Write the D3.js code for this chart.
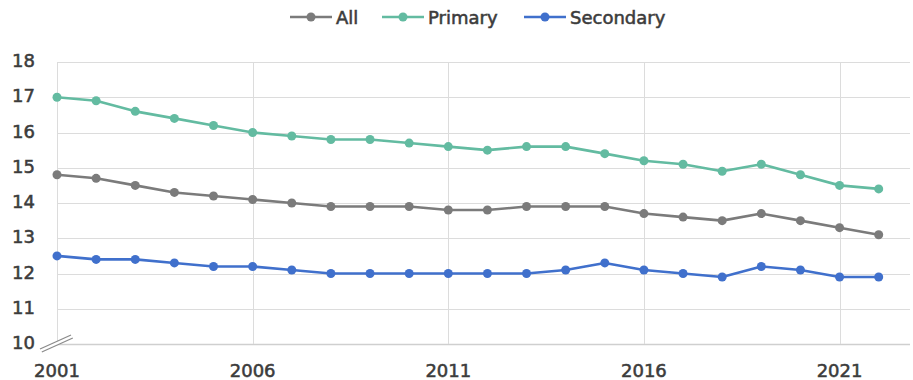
<!DOCTYPE html>
<html>
<head>
<meta charset="utf-8">
<script src="https://cdn.jsdelivr.net/npm/d3@7"></script>
<style>
  html, body { margin: 0; padding: 0; background: #ffffff; }
  svg { display: block; }
  text { font-family: "DejaVu Sans", sans-serif; fill: #3c3c3c; stroke: #3c3c3c; stroke-width: 0.55px; }
</style>
</head>
<body>
<svg id="chart" width="913" height="380"></svg>
<script>
// Years on the horizontal axis
const years = [2001, 2002, 2003, 2004, 2005, 2006, 2007, 2008, 2009, 2010, 2011,
               2012, 2013, 2014, 2015, 2016, 2017, 2018, 2019, 2020, 2021, 2022];

// Series values
const allValues = [14.8, 14.7, 14.5, 14.3, 14.2, 14.1, 14.0, 13.9, 13.9, 13.9, 13.8,
                   13.8, 13.9, 13.9, 13.9, 13.7, 13.6, 13.5, 13.7, 13.5, 13.3, 13.1];
const primaryValues = [17.0, 16.9, 16.6, 16.4, 16.2, 16.0, 15.9, 15.8, 15.8, 15.7, 15.6,
                       15.5, 15.6, 15.6, 15.4, 15.2, 15.1, 14.9, 15.1, 14.8, 14.5, 14.4];
const secondaryValues = [12.5, 12.4, 12.4, 12.3, 12.2, 12.2, 12.1, 12.0, 12.0, 12.0, 12.0,
                         12.0, 12.0, 12.1, 12.3, 12.1, 12.0, 11.9, 12.2, 12.1, 11.9, 11.9];

// Series names
const seriesNames = ["All", "Primary", "Secondary"];

// Tick labels
const xTicks = [2001, 2006, 2011, 2016, 2021];
const yTicks = [10, 11, 12, 13, 14, 15, 16, 17, 18];

const colors = { "All": "#7b7b7b", "Primary": "#63bba1", "Secondary": "#4070cc" };
const series = [
  { name: "All", values: allValues },
  { name: "Primary", values: primaryValues },
  { name: "Secondary", values: secondaryValues }
];

const svg = d3.select("#chart");

const x = d3.scaleLinear().domain([2001, 2022.8]).range([57, 910]);
const y = d3.scaleLinear().domain([10, 18]).range([344, 62]);

// Horizontal gridlines
const grid = svg.append("g").attr("class", "grid");
grid.selectAll("line.h")
  .data(yTicks)
  .join("line")
  .attr("class", "h")
  .attr("x1", x.range()[0])
  .attr("x2", x.range()[1])
  .attr("y1", d => Math.round(y(d)) + 0.5)
  .attr("y2", d => Math.round(y(d)) + 0.5)
  .attr("stroke", d => d === 10 ? "#cfcfcf" : "#dcdcdc")
  .attr("stroke-width", d => d === 10 ? 1.5 : 1);

// Vertical gridlines (the first one is the value axis)
grid.selectAll("line.v")
  .data(xTicks)
  .join("line")
  .attr("class", "v")
  .attr("x1", d => Math.round(x(d)) + 0.5)
  .attr("x2", d => Math.round(x(d)) + 0.5)
  .attr("y1", y(18))
  .attr("y2", y(10))
  .attr("stroke", "#dcdcdc")
  .attr("stroke-width", 1);

// Y tick labels
svg.append("g")
  .selectAll("text")
  .data(yTicks)
  .join("text")
  .attr("x", 35)
  .attr("y", d => y(d) - 1.5)
  .attr("text-anchor", "end")
  .attr("dominant-baseline", "central")
  .attr("font-size", 18)
  .text(d => d);

// X tick labels
svg.append("g")
  .selectAll("text")
  .data(xTicks)
  .join("text")
  .attr("x", d => x(d))
  .attr("y", y(10) + 26)
  .attr("text-anchor", "middle")
  .attr("dominant-baseline", "central")
  .attr("font-size", 18)
  .text(d => d);

// Axis break marker at the origin
const bx = x(2001), by = y(10);
svg.append("path")
  .attr("d", `M${bx - 17},${by + 5} L${bx + 14},${by - 9} L${bx + 16},${by - 6} L${bx - 15},${by + 8} Z`)
  .attr("fill", "#ffffff")
  .attr("stroke", "none");
svg.append("g")
  .selectAll("line")
  .data([0, 3])
  .join("line")
  .attr("x1", d => bx - 17 + d * 0.6)
  .attr("y1", d => by + 5 + d)
  .attr("x2", d => bx + 14 + d * 0.6)
  .attr("y2", d => by - 9 + d)
  .attr("stroke", "#8a8a8a")
  .attr("stroke-width", 1.2);

// Lines and markers
const line = d3.line()
  .x((d, i) => x(years[i]))
  .y(d => y(d));

const sg = svg.append("g")
  .selectAll("g")
  .data(series)
  .join("g");

sg.append("path")
  .attr("d", d => line(d.values))
  .attr("fill", "none")
  .attr("stroke", d => colors[d.name])
  .attr("stroke-width", 2.6)
  .attr("stroke-linejoin", "round");

sg.each(function(s) {
  d3.select(this).selectAll("circle")
    .data(s.values)
    .join("circle")
    .attr("cx", (d, i) => x(years[i]))
    .attr("cy", d => y(d))
    .attr("r", 4.5)
    .attr("fill", colors[s.name]);
});

// Legend
const legendStarts = [290, 382, 524];
const legend = svg.append("g")
  .selectAll("g")
  .data(seriesNames)
  .join("g")
  .attr("transform", (d, i) => `translate(${legendStarts[i]},17)`);

legend.append("line")
  .attr("x1", 0).attr("x2", 42)
  .attr("y1", 0).attr("y2", 0)
  .attr("stroke", d => colors[d])
  .attr("stroke-width", 2.6);
legend.append("circle")
  .attr("cx", 21).attr("cy", 0).attr("r", 4.5)
  .attr("fill", d => colors[d]);
legend.append("text")
  .attr("x", 46)
  .attr("y", 0)
  .attr("dominant-baseline", "central")
  .attr("font-size", 18)
  .text(d => d);
</script>
</body>
</html>
